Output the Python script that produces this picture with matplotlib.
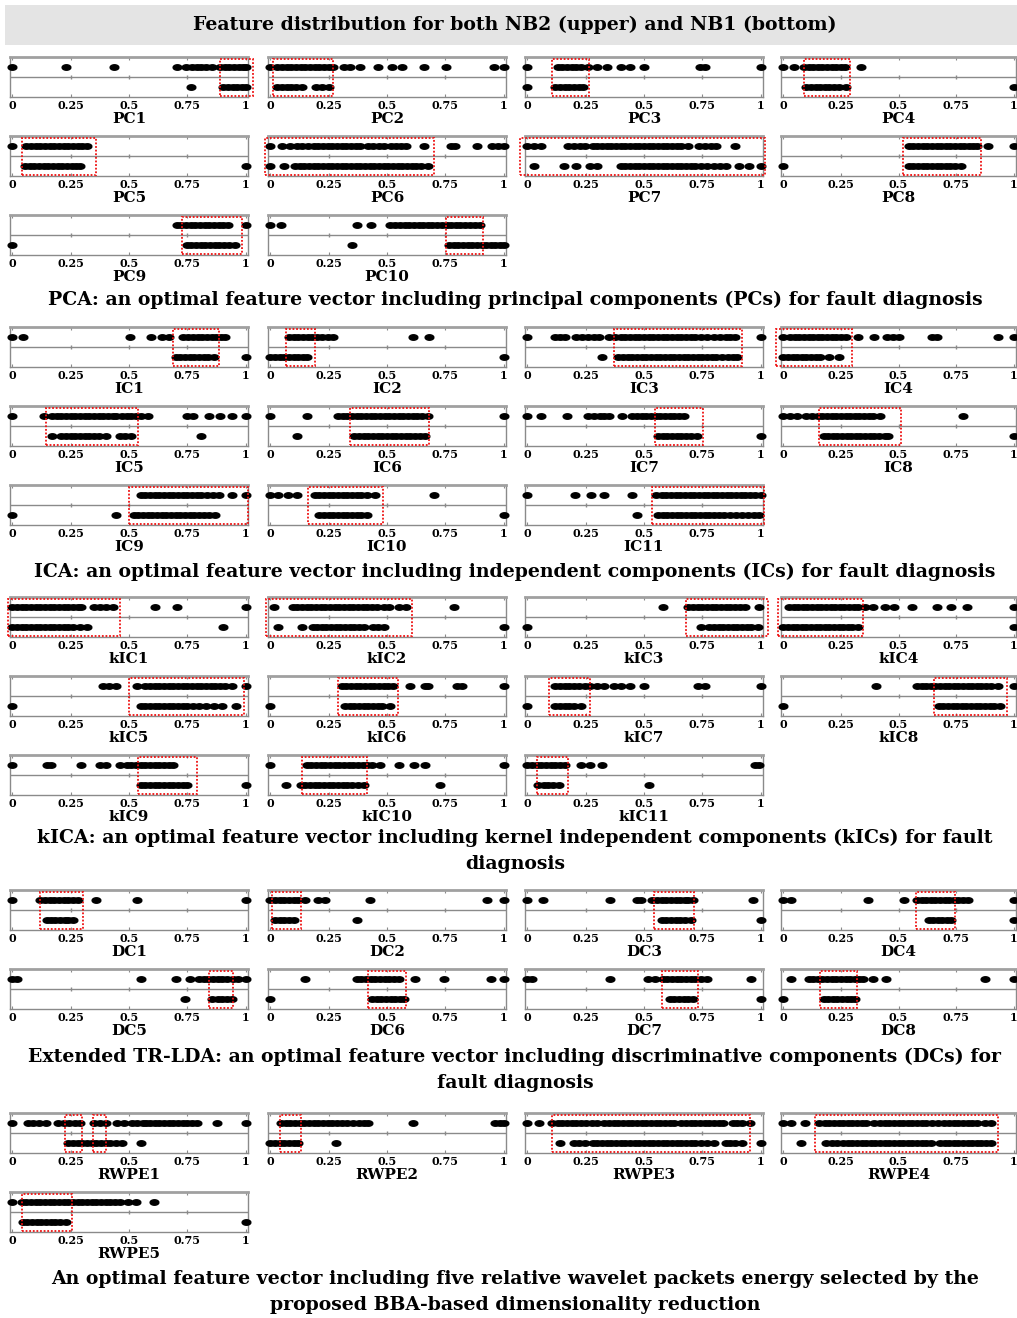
import matplotlib.pyplot as plt
import numpy as np
from matplotlib.patches import Rectangle

W, H = 1017, 1318

# ---- PCA ----
PC1_up = [0, 0.23, 0.435, 0.705, 0.745, 0.77, 0.79, 0.81, 0.83, 0.855, 0.89, 0.91, 0.93, 0.95, 0.97, 0.99, 1.0]
PC1_lo = [0.765, 0.905, 0.925, 0.945, 0.965, 0.985, 1.0]
PC1_box = [(0.89, 1.03)]
PC2_up = [0, 0.03, 0.05, 0.07, 0.09, 0.11, 0.13, 0.15, 0.17, 0.19, 0.21, 0.23, 0.25, 0.27,
          0.315, 0.343, 0.383, 0.46, 0.52, 0.566, 0.66, 0.752, 0.96, 1.0]
PC2_lo = [0.03, 0.05, 0.07, 0.09, 0.11, 0.137, 0.194, 0.22, 0.25]
PC2_box = [(0.01, 0.27)]
PC3_up = [0, 0.13, 0.15, 0.17, 0.19, 0.21, 0.23, 0.26, 0.30, 0.34, 0.40, 0.44, 0.50, 0.74, 0.76, 1.0]
PC3_lo = [0, 0.12, 0.14, 0.16, 0.18, 0.20, 0.22, 0.24]
PC3_box = [(0.107, 0.265)]
PC4_up = [0, 0.047, 0.088, 0.11, 0.13, 0.15, 0.17, 0.19, 0.21, 0.23, 0.25, 0.268, 0.337]
PC4_lo = [0.10, 0.12, 0.14, 0.16, 0.18, 0.20, 0.22, 0.24, 0.27, 1.0]
PC4_box = [(0.09, 0.29)]
PC5_up = [0, 0.06, 0.08, 0.10, 0.12, 0.14, 0.16, 0.18, 0.20, 0.22, 0.24, 0.26, 0.28, 0.30, 0.32]
PC5_lo = [0.055, 0.075, 0.095, 0.115, 0.135, 0.155, 0.175, 0.195, 0.215, 0.235, 0.255, 0.275, 0.29, 1.0]
PC5_box = [(0.04, 0.36)]
PC6_up = [0, 0.05, 0.085, 0.113, 0.135, 0.163, 0.185, 0.205, 0.225, 0.245, 0.265, 0.285, 0.305, 0.325,
          0.345, 0.365, 0.383, 0.418, 0.44, 0.465, 0.489, 0.518, 0.54, 0.56, 0.58, 0.66, 0.773, 0.79,
          0.887, 0.95, 0.975, 1.0]
PC6_lo = [0, 0.06, 0.106, 0.125, 0.145, 0.165, 0.185, 0.205, 0.225, 0.245, 0.265, 0.285, 0.305, 0.325,
          0.345, 0.365, 0.385, 0.405, 0.425, 0.445, 0.465, 0.485, 0.505, 0.525, 0.545, 0.565, 0.585,
          0.605, 0.625, 0.645, 0.674]
PC6_box = [(-0.025, 0.70)]
PC7_up = [0, 0.03, 0.06, 0.176, 0.20, 0.225, 0.245, 0.28, 0.30, 0.32, 0.34, 0.36, 0.38, 0.40, 0.42, 0.44,
          0.46, 0.48, 0.50, 0.52, 0.54, 0.56, 0.58, 0.60, 0.62, 0.64, 0.66, 0.69, 0.735, 0.76, 0.785,
          0.81, 0.89]
PC7_lo = [0.03, 0.157, 0.21, 0.27, 0.30, 0.40, 0.42, 0.44, 0.46, 0.48, 0.50, 0.52, 0.54, 0.56, 0.58,
          0.60, 0.62, 0.64, 0.66, 0.68, 0.70, 0.72, 0.745, 0.77, 0.80, 0.825, 0.85, 0.906, 0.948, 1.0]
PC7_box = [(-0.03, 1.02)]
PC8_up = [0.546, 0.565, 0.585, 0.605, 0.625, 0.645, 0.665, 0.685, 0.705, 0.725, 0.745, 0.765, 0.785,
          0.805, 0.825, 0.84, 0.89, 1.0]
PC8_lo = [0, 0.546, 0.565, 0.585, 0.605, 0.625, 0.645, 0.665, 0.685, 0.705, 0.725, 0.745, 0.77]
PC8_box = [(0.52, 0.86)]
PC9_up = [0.705, 0.725, 0.745, 0.765, 0.785, 0.805, 0.825, 0.845, 0.865, 0.885, 0.905, 0.925, 1.0]
PC9_lo = [0, 0.747, 0.767, 0.787, 0.807, 0.827, 0.847, 0.867, 0.887, 0.907, 0.927, 0.953]
PC9_box = [(0.728, 0.983)]
PC10_up = [0, 0.047, 0.37, 0.43, 0.512, 0.535, 0.555, 0.575, 0.595, 0.615, 0.635, 0.655, 0.675, 0.695,
           0.715, 0.735, 0.755, 0.775, 0.795, 0.815, 0.835, 0.855, 0.875, 0.9]
PC10_lo = [0.348, 0.764, 0.785, 0.805, 0.825, 0.845, 0.865, 0.885, 0.905, 0.925, 0.945, 0.965, 0.985, 1.0]
PC10_box = [(0.753, 0.91)]

# ---- ICA ----
IC1_up = [0, 0.047, 0.505, 0.596, 0.643, 0.67, 0.733, 0.755, 0.775, 0.795, 0.815, 0.835, 0.855, 0.875, 0.895, 0.912]
IC1_lo = [0.70, 0.72, 0.74, 0.76, 0.78, 0.80, 0.82, 0.84, 0.863, 1.0]
IC1_box = [(0.687, 0.885)]
IC2_up = [0.082, 0.10, 0.12, 0.14, 0.16, 0.18, 0.20, 0.22, 0.245, 0.27, 0.61, 0.682]
IC2_lo = [0, 0.02, 0.04, 0.06, 0.08, 0.10, 0.12, 0.14, 0.156, 1.0]
IC2_box = [(0.066, 0.19)]
IC3_up = [0, 0.12, 0.14, 0.163, 0.21, 0.235, 0.26, 0.285, 0.306, 0.35, 0.377, 0.40, 0.42, 0.44, 0.46,
          0.48, 0.50, 0.52, 0.54, 0.56, 0.58, 0.60, 0.62, 0.64, 0.66, 0.68, 0.70, 0.72, 0.745, 0.77,
          0.80, 0.825, 0.85, 0.87, 0.89, 1.0]
IC3_lo = [0.322, 0.39, 0.41, 0.43, 0.45, 0.47, 0.49, 0.51, 0.53, 0.55, 0.57, 0.59, 0.61, 0.63, 0.65,
          0.67, 0.69, 0.71, 0.73, 0.75, 0.77, 0.79, 0.81, 0.835, 0.86, 0.88, 0.9]
IC3_box = [(0.37, 0.92)]
IC4_up = [0, 0.03, 0.05, 0.07, 0.09, 0.11, 0.13, 0.15, 0.17, 0.19, 0.21, 0.23, 0.25, 0.27, 0.325, 0.395,
          0.45, 0.475, 0.50, 0.646, 0.668, 0.93, 1.0]
IC4_lo = [0, 0.02, 0.04, 0.06, 0.08, 0.10, 0.12, 0.14, 0.16, 0.20, 0.24]
IC4_box = [(-0.03, 0.297)]
IC5_up = [0, 0.137, 0.17, 0.19, 0.21, 0.23, 0.25, 0.27, 0.29, 0.31, 0.33, 0.35, 0.37, 0.39, 0.41, 0.43,
          0.445, 0.47, 0.49, 0.51, 0.53, 0.55, 0.58, 0.75, 0.775, 0.843, 0.89, 0.94, 1.0]
IC5_lo = [0.17, 0.21, 0.23, 0.25, 0.27, 0.29, 0.31, 0.33, 0.35, 0.37, 0.40, 0.46, 0.485, 0.51, 0.808]
IC5_box = [(0.143, 0.54)]
IC6_up = [0, 0.156, 0.29, 0.31, 0.33, 0.35, 0.37, 0.39, 0.41, 0.43, 0.45, 0.47, 0.49, 0.51, 0.53, 0.55,
          0.57, 0.59, 0.61, 0.63, 0.65, 0.677, 1.0]
IC6_lo = [0.115, 0.36, 0.38, 0.40, 0.42, 0.44, 0.46, 0.48, 0.50, 0.52, 0.54, 0.56, 0.58, 0.60, 0.62,
          0.64, 0.663]
IC6_box = [(0.34, 0.68)]
IC7_up = [0, 0.06, 0.168, 0.26, 0.285, 0.31, 0.33, 0.35, 0.405, 0.45, 0.47, 0.49, 0.51, 0.53, 0.55,
          0.57, 0.59, 0.61, 0.63, 0.65, 0.67]
IC7_lo = [0.56, 0.58, 0.60, 0.62, 0.64, 0.66, 0.68, 0.70, 0.727, 1.0]
IC7_box = [(0.548, 0.755)]
IC8_up = [0, 0.03, 0.06, 0.10, 0.125, 0.15, 0.17, 0.19, 0.21, 0.23, 0.25, 0.27, 0.29, 0.31, 0.33, 0.35,
          0.37, 0.39, 0.42, 0.78]
IC8_lo = [0.175, 0.195, 0.215, 0.235, 0.255, 0.275, 0.295, 0.315, 0.335, 0.355, 0.375, 0.395, 0.415,
          0.44, 0.455, 1.0]
IC8_box = [(0.154, 0.51)]
IC9_up = [0.55, 0.57, 0.59, 0.61, 0.63, 0.65, 0.67, 0.69, 0.71, 0.73, 0.75, 0.77, 0.79, 0.81, 0.835,
          0.86, 0.885, 0.94, 1.0]
IC9_lo = [0, 0.445, 0.522, 0.54, 0.56, 0.58, 0.60, 0.62, 0.64, 0.66, 0.68, 0.70, 0.72, 0.74, 0.76,
          0.78, 0.80, 0.82, 0.845, 0.87]
IC9_box = [(0.5, 1.01)]
IC10_up = [0, 0.033, 0.074, 0.115, 0.19, 0.21, 0.23, 0.25, 0.27, 0.29, 0.31, 0.33, 0.35, 0.37, 0.39,
           0.416, 0.45, 0.70]
IC10_lo = [0.21, 0.23, 0.25, 0.27, 0.29, 0.31, 0.33, 0.35, 0.37, 0.39, 0.416, 1.0]
IC10_box = [(0.16, 0.485)]
IC11_up = [0, 0.204, 0.273, 0.328, 0.45, 0.553, 0.575, 0.595, 0.615, 0.635, 0.655, 0.675, 0.695, 0.715,
           0.735, 0.755, 0.775, 0.795, 0.815, 0.835, 0.855, 0.875, 0.895, 0.915, 0.935, 0.955, 0.975, 1.0]
IC11_lo = [0.47, 0.56, 0.58, 0.60, 0.62, 0.64, 0.66, 0.68, 0.70, 0.72, 0.74, 0.76, 0.78, 0.80, 0.82,
           0.845, 0.87, 0.895, 0.92, 0.945, 0.97, 0.995]
IC11_box = [(0.534, 1.016)]

# ---- kICA ----
kIC1_up = [0, 0.02, 0.04, 0.06, 0.08, 0.10, 0.12, 0.14, 0.16, 0.18, 0.20, 0.22, 0.24, 0.26, 0.28, 0.294,
           0.35, 0.375, 0.40, 0.43, 0.61, 0.706, 1.0]
kIC1_lo = [0, 0.02, 0.04, 0.06, 0.08, 0.10, 0.12, 0.14, 0.16, 0.18, 0.20, 0.22, 0.24, 0.26, 0.29, 0.32, 0.904]
kIC1_box = [(-0.02, 0.46)]
kIC2_up = [0.014, 0.096, 0.115, 0.135, 0.155, 0.175, 0.195, 0.215, 0.235, 0.255, 0.275, 0.295, 0.315,
           0.335, 0.355, 0.375, 0.395, 0.415, 0.435, 0.457, 0.485, 0.51, 0.55, 0.58, 0.786]
kIC2_lo = [0.033, 0.134, 0.183, 0.20, 0.22, 0.24, 0.26, 0.28, 0.30, 0.32, 0.34, 0.36, 0.38, 0.40, 0.44,
           0.46, 0.485, 1.0]
kIC2_box = [(-0.02, 0.608)]
kIC3_up = [0.58, 0.69, 0.71, 0.73, 0.75, 0.77, 0.79, 0.81, 0.83, 0.85, 0.87, 0.89, 0.91, 0.934, 0.995]
kIC3_lo = [0, 0.746, 0.78, 0.80, 0.82, 0.84, 0.86, 0.88, 0.90, 0.92, 0.94, 0.96, 0.99]
kIC3_box = [(0.68, 1.03)]
kIC4_up = [0.026, 0.045, 0.065, 0.085, 0.105, 0.125, 0.145, 0.165, 0.185, 0.205, 0.225, 0.245, 0.265,
           0.285, 0.305, 0.325, 0.354, 0.39, 0.44, 0.48, 0.56, 0.667, 0.73, 0.796, 1.0]
kIC4_lo = [0, 0.02, 0.04, 0.06, 0.08, 0.10, 0.12, 0.14, 0.16, 0.18, 0.20, 0.22, 0.24, 0.26, 0.28, 0.30,
           0.325, 1.0]
kIC4_box = [(-0.025, 0.347)]
kIC5_up = [0.39, 0.415, 0.445, 0.533, 0.57, 0.59, 0.61, 0.63, 0.65, 0.67, 0.69, 0.71, 0.73, 0.75, 0.77,
           0.79, 0.81, 0.83, 0.85, 0.87, 0.89, 0.91, 0.94, 1.0]
kIC5_lo = [0, 0.55, 0.57, 0.59, 0.61, 0.63, 0.65, 0.67, 0.69, 0.71, 0.73, 0.75, 0.775, 0.80, 0.83,
           0.865, 0.9, 0.96]
kIC5_box = [(0.5, 0.995)]
kIC6_up = [0.307, 0.325, 0.345, 0.365, 0.385, 0.405, 0.425, 0.445, 0.465, 0.485, 0.505, 0.526, 0.6,
           0.663, 0.677, 0.8, 0.82, 1.0]
kIC6_lo = [0, 0.32, 0.34, 0.36, 0.38, 0.40, 0.42, 0.44, 0.46, 0.48, 0.512]
kIC6_box = [(0.288, 0.545)]
kIC7_up = [0.12, 0.14, 0.16, 0.18, 0.20, 0.22, 0.245, 0.27, 0.30, 0.33, 0.37, 0.40, 0.44, 0.50, 0.73,
           0.76, 1.0]
kIC7_lo = [0, 0.12, 0.14, 0.16, 0.18, 0.20, 0.23]
kIC7_box = [(0.094, 0.27)]
kIC8_up = [0.404, 0.58, 0.60, 0.62, 0.64, 0.66, 0.68, 0.70, 0.72, 0.74, 0.76, 0.78, 0.80, 0.82, 0.84,
           0.86, 0.88, 0.90, 0.93, 1.0]
kIC8_lo = [0, 0.675, 0.695, 0.715, 0.735, 0.755, 0.775, 0.795, 0.815, 0.835, 0.855, 0.875, 0.895,
           0.915, 0.94]
kIC8_box = [(0.653, 0.97)]
kIC9_up = [0, 0.148, 0.165, 0.294, 0.376, 0.40, 0.46, 0.49, 0.51, 0.53, 0.55, 0.57, 0.59, 0.61, 0.63,
           0.65, 0.67, 0.687]
kIC9_lo = [0.55, 0.57, 0.59, 0.61, 0.63, 0.65, 0.67, 0.69, 0.71, 0.73, 0.747, 1.0]
kIC9_box = [(0.54, 0.79)]
kIC10_up = [0, 0.156, 0.175, 0.195, 0.215, 0.235, 0.255, 0.275, 0.295, 0.315, 0.335, 0.355, 0.375,
            0.395, 0.415, 0.435, 0.47, 0.553, 0.616, 0.663, 1.0]
kIC10_lo = [0.066, 0.13, 0.15, 0.17, 0.19, 0.21, 0.23, 0.25, 0.27, 0.29, 0.31, 0.33, 0.35, 0.375,
            0.40, 0.726]
kIC10_box = [(0.134, 0.416)]
kIC11_up = [0, 0.02, 0.04, 0.06, 0.08, 0.10, 0.12, 0.14, 0.16, 0.23, 0.27, 0.32, 0.975, 0.995]
kIC11_lo = [0.047, 0.07, 0.09, 0.11, 0.135, 0.52]
kIC11_box = [(0.04, 0.176)]

# ---- Extended TR-LDA ----
DC1_up = [0, 0.12, 0.14, 0.16, 0.18, 0.20, 0.22, 0.24, 0.26, 0.28, 0.357, 0.533, 1.0]
DC1_lo = [0.148, 0.165, 0.185, 0.205, 0.225, 0.24, 0.258]
DC1_box = [(0.12, 0.302)]
DC2_up = [0, 0.02, 0.04, 0.06, 0.08, 0.10, 0.12, 0.15, 0.205, 0.233, 0.425, 0.93, 1.0]
DC2_lo = [0.02, 0.04, 0.06, 0.08, 0.10, 0.37]
DC2_box = [(0.005, 0.13)]
DC3_up = [0, 0.066, 0.355, 0.47, 0.485, 0.535, 0.555, 0.575, 0.595, 0.615, 0.635, 0.655, 0.675, 0.69,
          0.708, 0.967]
DC3_lo = [0.576, 0.595, 0.615, 0.635, 0.655, 0.675, 0.70, 1.0]
DC3_box = [(0.543, 0.713)]
DC4_up = [0, 0.033, 0.368, 0.525, 0.582, 0.60, 0.62, 0.64, 0.66, 0.68, 0.70, 0.72, 0.74, 0.76, 0.78,
          0.803, 1.0]
DC4_lo = [0.632, 0.65, 0.67, 0.69, 0.71, 0.73, 1.0]
DC4_box = [(0.575, 0.746)]
DC5_up = [0, 0.02, 0.55, 0.70, 0.76, 0.80, 0.82, 0.84, 0.86, 0.88, 0.90, 0.92, 0.945, 0.967, 1.0]
DC5_lo = [0.742, 0.857, 0.88, 0.90, 0.92, 0.94]
DC5_box = [(0.843, 0.945)]
DC6_up = [0.15, 0.37, 0.39, 0.41, 0.43, 0.45, 0.47, 0.49, 0.51, 0.53, 0.553, 0.62, 0.745, 0.945, 1.0]
DC6_lo = [0, 0.435, 0.455, 0.475, 0.495, 0.515, 0.535, 0.555, 0.573]
DC6_box = [(0.42, 0.58)]
DC7_up = [0, 0.02, 0.355, 0.515, 0.548, 0.58, 0.60, 0.62, 0.64, 0.66, 0.68, 0.70, 0.72, 0.745, 0.77, 0.96]
DC7_lo = [0.61, 0.63, 0.65, 0.67, 0.69, 0.708, 1.0]
DC7_box = [(0.576, 0.73)]
DC8_up = [0.033, 0.11, 0.13, 0.15, 0.17, 0.19, 0.21, 0.23, 0.25, 0.27, 0.29, 0.31, 0.33, 0.347, 0.39,
          0.447, 0.874, 1.0]
DC8_lo = [0, 0.175, 0.195, 0.215, 0.235, 0.255, 0.275, 0.295, 0.31]
DC8_box = [(0.158, 0.32)]

# ---- RWPE ----
RWPE1_up = [0, 0.068, 0.09, 0.115, 0.146, 0.196, 0.22, 0.245, 0.27, 0.288, 0.352, 0.375, 0.40, 0.45,
            0.48, 0.515, 0.535, 0.558, 0.572, 0.59, 0.61, 0.63, 0.65, 0.67, 0.69, 0.71, 0.73, 0.75,
            0.77, 0.79, 0.878, 1.0]
RWPE1_lo = [0.24, 0.26, 0.28, 0.30, 0.32, 0.34, 0.36, 0.38, 0.40, 0.42, 0.445, 0.47, 0.55]
RWPE1_box = [(0.225, 0.30), (0.345, 0.40)]
RWPE2_up = [0.045, 0.065, 0.085, 0.105, 0.125, 0.145, 0.165, 0.185, 0.205, 0.225, 0.245, 0.265, 0.285,
            0.305, 0.33, 0.356, 0.38, 0.40, 0.42, 0.61, 0.965, 0.985, 1.0]
RWPE2_lo = [0, 0.02, 0.04, 0.06, 0.08, 0.10, 0.12, 0.28]
RWPE2_box = [(0.04, 0.133)]
RWPE3_up = [0, 0.05, 0.107, 0.13, 0.15, 0.17, 0.19, 0.21, 0.23, 0.25, 0.275, 0.30, 0.33, 0.35, 0.37,
            0.39, 0.41, 0.43, 0.45, 0.47, 0.49, 0.51, 0.53, 0.55, 0.57, 0.59, 0.61, 0.63, 0.66, 0.68,
            0.70, 0.72, 0.74, 0.76, 0.78, 0.80, 0.82, 0.84, 0.88, 0.90, 0.92, 0.956]
RWPE3_lo = [0.14, 0.20, 0.22, 0.245, 0.28, 0.30, 0.32, 0.34, 0.36, 0.38, 0.40, 0.42, 0.44, 0.46, 0.48,
            0.50, 0.52, 0.54, 0.56, 0.58, 0.60, 0.62, 0.64, 0.66, 0.68, 0.70, 0.72, 0.745, 0.77, 0.80,
            0.85, 0.87, 0.89, 0.92, 1.0]
RWPE3_box = [(0.107, 0.953)]
RWPE4_up = [0, 0.033, 0.094, 0.157, 0.18, 0.20, 0.22, 0.24, 0.26, 0.28, 0.30, 0.32, 0.34, 0.36, 0.392,
            0.42, 0.44, 0.46, 0.48, 0.50, 0.52, 0.54, 0.56, 0.58, 0.60, 0.62, 0.645, 0.67, 0.696, 0.72,
            0.74, 0.76, 0.78, 0.80, 0.82, 0.84, 0.875, 0.9]
RWPE4_lo = [0.075, 0.185, 0.21, 0.235, 0.26, 0.28, 0.30, 0.32, 0.34, 0.36, 0.38, 0.40, 0.42, 0.44, 0.46,
            0.48, 0.50, 0.52, 0.54, 0.56, 0.58, 0.60, 0.62, 0.64, 0.68, 0.70, 0.72, 0.74, 0.76, 0.78,
            0.80, 0.82, 0.84, 0.86, 0.88, 0.9]
RWPE4_box = [(0.138, 0.93)]
RWPE5_up = [0, 0.04, 0.06, 0.08, 0.10, 0.12, 0.14, 0.16, 0.18, 0.20, 0.22, 0.24, 0.26, 0.28, 0.30, 0.32,
            0.34, 0.36, 0.38, 0.40, 0.42, 0.44, 0.46, 0.494, 0.53, 0.608]
RWPE5_lo = [0.047, 0.065, 0.085, 0.105, 0.125, 0.145, 0.165, 0.185, 0.205, 0.23, 1.0]
RWPE5_box = [(0.04, 0.257)]

tick_vals = [0, 0.25, 0.5, 0.75, 1]
tick_text = ['0', '0.25', '0.5', '0.75', '1']

# rows of panels: (top pixel, [(name, upper, lower, boxes), ...])
rows = [
    (57, [("PC1", PC1_up, PC1_lo, PC1_box), ("PC2", PC2_up, PC2_lo, PC2_box),
          ("PC3", PC3_up, PC3_lo, PC3_box), ("PC4", PC4_up, PC4_lo, PC4_box)]),
    (136, [("PC5", PC5_up, PC5_lo, PC5_box), ("PC6", PC6_up, PC6_lo, PC6_box),
           ("PC7", PC7_up, PC7_lo, PC7_box), ("PC8", PC8_up, PC8_lo, PC8_box)]),
    (215, [("PC9", PC9_up, PC9_lo, PC9_box), ("PC10", PC10_up, PC10_lo, PC10_box)]),
    (327, [("IC1", IC1_up, IC1_lo, IC1_box), ("IC2", IC2_up, IC2_lo, IC2_box),
           ("IC3", IC3_up, IC3_lo, IC3_box), ("IC4", IC4_up, IC4_lo, IC4_box)]),
    (406, [("IC5", IC5_up, IC5_lo, IC5_box), ("IC6", IC6_up, IC6_lo, IC6_box),
           ("IC7", IC7_up, IC7_lo, IC7_box), ("IC8", IC8_up, IC8_lo, IC8_box)]),
    (485, [("IC9", IC9_up, IC9_lo, IC9_box), ("IC10", IC10_up, IC10_lo, IC10_box),
           ("IC11", IC11_up, IC11_lo, IC11_box)]),
    (597, [("kIC1", kIC1_up, kIC1_lo, kIC1_box), ("kIC2", kIC2_up, kIC2_lo, kIC2_box),
           ("kIC3", kIC3_up, kIC3_lo, kIC3_box), ("kIC4", kIC4_up, kIC4_lo, kIC4_box)]),
    (676, [("kIC5", kIC5_up, kIC5_lo, kIC5_box), ("kIC6", kIC6_up, kIC6_lo, kIC6_box),
           ("kIC7", kIC7_up, kIC7_lo, kIC7_box), ("kIC8", kIC8_up, kIC8_lo, kIC8_box)]),
    (755, [("kIC9", kIC9_up, kIC9_lo, kIC9_box), ("kIC10", kIC10_up, kIC10_lo, kIC10_box),
           ("kIC11", kIC11_up, kIC11_lo, kIC11_box)]),
    (890, [("DC1", DC1_up, DC1_lo, DC1_box), ("DC2", DC2_up, DC2_lo, DC2_box),
           ("DC3", DC3_up, DC3_lo, DC3_box), ("DC4", DC4_up, DC4_lo, DC4_box)]),
    (969, [("DC5", DC5_up, DC5_lo, DC5_box), ("DC6", DC6_up, DC6_lo, DC6_box),
           ("DC7", DC7_up, DC7_lo, DC7_box), ("DC8", DC8_up, DC8_lo, DC8_box)]),
    (1113, [("RWPE1", RWPE1_up, RWPE1_lo, RWPE1_box), ("RWPE2", RWPE2_up, RWPE2_lo, RWPE2_box),
            ("RWPE3", RWPE3_up, RWPE3_lo, RWPE3_box), ("RWPE4", RWPE4_up, RWPE4_lo, RWPE4_box)]),
    (1192, [("RWPE5", RWPE5_up, RWPE5_lo, RWPE5_box)]),
]

captions = [
    (300, "PCA: an optimal feature vector including principal components (PCs) for fault diagnosis"),
    (572, "ICA: an optimal feature vector including independent components (ICs) for fault diagnosis"),
    (838, "kICA: an optimal feature vector including kernel independent components (kICs) for fault"),
    (864, "diagnosis"),
    (1057, "Extended TR-LDA: an optimal feature vector including discriminative components (DCs) for"),
    (1083, "fault diagnosis"),
    (1279, "An optimal feature vector including five relative wavelet packets energy selected by the"),
    (1305, "proposed BBA-based dimensionality reduction"),
]

plt.rcParams['font.family'] = 'DejaVu Serif'
plt.rcParams['font.weight'] = 'bold'

col_left = [10, 268, 525, 781]
col_width = [238, 238, 238, 235]
ax_h = 40

# horizontal oval marker like the scanned dots
t = np.linspace(0, 2 * np.pi, 40)
oval = np.column_stack([1.6 * np.cos(t), np.sin(t)])

fig = plt.figure(figsize=(W / 100, H / 100), dpi=100)

# title band
fig.add_artist(Rectangle((5 / W, 1 - 45 / H), 1012 / W, 40 / H, transform=fig.transFigure,
                         facecolor='#e4e4e4', edgecolor='none'))
fig.text(515 / W, 1 - 25 / H, "Feature distribution for both NB2 (upper) and NB1 (bottom)",
         ha='center', va='center', fontsize=13.6, fontweight='bold')

for top, panels in rows:
    for i, (name, up, lo, boxes) in enumerate(panels):
        ax = fig.add_axes([col_left[i] / W, 1 - (top + ax_h) / H, col_width[i] / W, ax_h / H])
        ax.set_xlim(-0.01, 1.01)
        ax.set_ylim(0.5, 2.5)
        ax.axhline(1.5, color='#8a8a8a', lw=1.0, zorder=1)
        ax.plot(tick_vals[1:4], [1.5] * 3, ls='', marker='|', ms=3, color='#8a8a8a', zorder=1)
        ax.plot(up, [2] * len(up), ls='', marker=oval, ms=6.3, color='black', zorder=3, clip_on=False)
        ax.plot(lo, [1] * len(lo), ls='', marker=oval, ms=6.3, color='black', zorder=3, clip_on=False)
        for x0, x1 in boxes:
            ax.add_patch(Rectangle((x0, 0.56), x1 - x0, 1.86, fill=False, edgecolor='#ee1111',
                                   lw=1.3, ls=(0, (1, 1)), clip_on=False, zorder=4))
        ax.set_xticks(tick_vals)
        ax.set_xticklabels(tick_text, fontsize=8, fontweight='bold')
        ax.set_yticks([])
        ax.tick_params(axis='x', direction='in', length=2.5, pad=2.2, top=True, color='#8a8a8a')
        for s in ax.spines.values():
            s.set_color('#8a8a8a')
            s.set_linewidth(1.0)
        ax.spines['top'].set_linewidth(2.0)
        ax.spines['top'].set_color('#a0a0a0')
        ax.set_xlabel(name, fontsize=11, fontweight='bold', labelpad=0.5)

for y, txt in captions:
    fig.text(515 / W, 1 - y / H, txt, ha='center', va='center', fontsize=13.6, fontweight='bold')

fig.savefig('out.png', dpi=100)
